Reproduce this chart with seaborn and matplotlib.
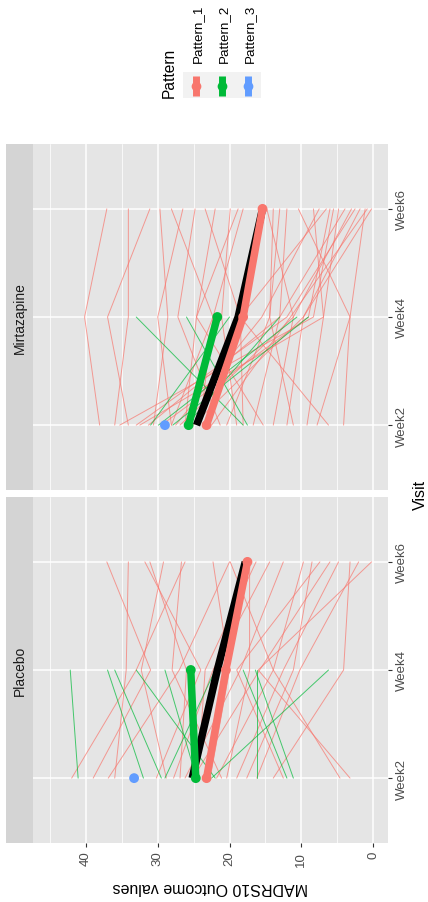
import matplotlib
matplotlib.use("Agg")
import matplotlib.pyplot as plt
import numpy as np
import pandas as pd
import seaborn as sns
from matplotlib.patches import Rectangle
from matplotlib.lines import Line2D
from matplotlib.ticker import FixedLocator

# ---------------- data ----------------
visits = ["Week2", "Week4", "Week6"]
panels = ["Mirtazapine", "Placebo"]
patterns = ["Pattern_1", "Pattern_2", "Pattern_3"]
pattern_colors = ["#F8766D", "#00BA38", "#619CFF"]
madrs_ticks = [0, 10, 20, 30, 40]
madrs_minor = [5, 15, 25, 35, 45]

# Placebo, Pattern_1 subjects (complete Week2/4/6)
plac_p1_w2 = [42.0, 39.0, 36.9, 36.0, 30.2, 28.8, 27.8, 26.9, 26.2, 25.1, 24.4,
              22.7, 21.8, 21.1, 20.4, 19.0, 17.6, 16.2, 13.9, 12.5, 3.2, 4.6]
plac_p1_w4 = [33.0, 31.0, 27.0, 34.4, 24.0, 32.3, 22.3, 26.0, 18.5, 15.8, 23.4,
              20.0, 13.9, 28.0, 17.2, 12.5, 11.1, 10.2, 4.1, 19.0, 16.0, 13.9]
plac_p1_w6 = [26.2, 37.1, 20.0, 34.1, 31.8, 29.2, 14.4, 31.1, 12.5, 6.0, 16.3,
              22.3, 9.7, 26.7, 17.2, 4.8, 8.5, 2.0, 3.2, 7.4, 0.2, 19.9]
# Placebo, Pattern_2 subjects (Week2/4)
plac_p2_w2 = [41.1, 32.0, 29.5, 22.0, 24.6, 29.0, 12.0, 16.2, 11.1, 22.5]
plac_p2_w4 = [42.2, 37.0, 36.0, 33.0, 29.0, 22.0, 18.1, 16.2, 16.4, 6.2]

# Mirtazapine, Pattern_1 subjects
mirt_p1_w2 = [38.1, 36.0, 35.3, 34.1, 32.5, 31.3, 30.6, 28.1, 26.9, 26.2, 25.1,
              24.1, 21.3, 20.4, 19.0, 18.1, 16.7, 15.3, 13.9, 12.0, 11.1, 9.2,
              7.8, 6.2, 4.1, 28.1, 33.0, 29.5, 27.5, 22.5]
mirt_p1_w4 = [40.2, 34.1, 8.3, 37.0, 6.9, 13.0, 28.6, 30.0, 11.1, 24.6, 9.7,
              22.3, 27.2, 14.4, 21.1, 18.5, 13.0, 24.6, 11.1, 9.7, 14.4, 6.9,
              3.2, 18.5, 3.2, 22.3, 12.0, 9.0, 15.5, 11.5]
mirt_p1_w6 = [37.1, 34.1, 5.5, 31.1, 4.8, 3.9, 29.7, 26.5, 3.0, 22.0, 1.8,
              28.1, 24.8, 13.0, 19.9, 23.4, 12.0, 18.8, 14.8, 0.2, 13.9, 8.3,
              10.4, 6.5, 1.1, 18.1, 2.5, 6.0, 7.5, 0.8]
# Mirtazapine, Pattern_2 subjects
mirt_p2_w2 = [18.1, 17.5, 31.0, 29.9, 27.9, 26.0]
mirt_p2_w4 = [33.0, 26.0, 20.0, 10.6, 9.0, 13.0]

# pattern means and overall trend
plac_mean_p1 = [23.2, 20.5, 17.5]
plac_mean_p2 = [24.7, 25.4]
plac_mean_p3 = [33.3]
plac_overall = [25.2, 21.7, 17.8]
mirt_mean_p1 = [23.2, 18.1, 15.4]
mirt_mean_p2 = [25.7, 21.7]
mirt_mean_p3 = [29.0]
mirt_overall = [24.6, 18.8, 15.4]

# ---------------- long tables ----------------
records = []
def add_subjects(panel, pattern, cols, start_id):
    for i, vals in enumerate(zip(*cols)):
        for j, v in enumerate(vals):
            records.append(dict(panel=panel, pattern=pattern,
                                subject=f"{panel}_{pattern}_{start_id + i}",
                                pos=j, value=v))

add_subjects("Placebo", "Pattern_1", [plac_p1_w2, plac_p1_w4, plac_p1_w6], 0)
add_subjects("Placebo", "Pattern_2", [plac_p2_w2, plac_p2_w4], 100)
add_subjects("Mirtazapine", "Pattern_1", [mirt_p1_w2, mirt_p1_w4, mirt_p1_w6], 0)
add_subjects("Mirtazapine", "Pattern_2", [mirt_p2_w2, mirt_p2_w4], 100)
subj = pd.DataFrame(records)

means = {
    "Placebo": ([plac_mean_p1, plac_mean_p2, plac_mean_p3], plac_overall),
    "Mirtazapine": ([mirt_mean_p1, mirt_mean_p2, mirt_mean_p3], mirt_overall),
}

# ---------------- figure ----------------
sns.set_theme(style="white")
plt.rcParams["font.family"] = ["Liberation Sans", "DejaVu Sans"]

W, H = 428, 903
fig = plt.figure(figsize=(W / 100, H / 100), dpi=100)

def px_rect(x0, y0, x1, y1):
    return [x0 / W, 1 - y1 / H, (x1 - x0) / W, (y1 - y0) / H]

panel_boxes = {"Mirtazapine": (33, 145, 388, 491), "Placebo": (33, 498, 388, 844)}
pal = dict(zip(patterns, pattern_colors))

for p in panels:
    box = panel_boxes[p]
    ax = fig.add_axes(px_rect(*box))
    ax.set_facecolor("#E5E5E5")
    for s in ax.spines.values():
        s.set_visible(False)

    d = subj[subj.panel == p]
    sns.lineplot(data=d, x="value", y="pos", hue="pattern", hue_order=patterns,
                 palette=pal, units="subject", estimator=None, sort=False,
                 legend=False, linewidth=0.7, alpha=0.7, ax=ax, zorder=2)

    pmeans, overall = means[p]
    ax.plot(overall, list(range(len(overall))), color="black", lw=5.4,
            solid_capstyle="butt", solid_joinstyle="round", zorder=3)
    for k, mv in enumerate(pmeans):
        pos = list(range(len(mv)))
        if len(mv) > 1:
            ax.plot(mv, pos, color=pattern_colors[k], lw=5.4,
                    solid_capstyle="butt", solid_joinstyle="round", zorder=4)
        sns.scatterplot(x=mv, y=pos, color=pattern_colors[k], s=50,
                        edgecolor="none", ax=ax, zorder=5, legend=False)

    ax.set_xlim(47.39, -2.09)
    ax.set_ylim(-0.6, 2.6)
    ax.xaxis.set_major_locator(FixedLocator(madrs_ticks))
    ax.xaxis.set_minor_locator(FixedLocator(madrs_minor))
    ax.set_yticks(range(len(visits)))
    ax.set_yticklabels(visits)
    ax.set_axisbelow(True)
    ax.grid(which="major", color="white", lw=1.1)
    ax.grid(which="minor", axis="x", color="white", lw=0.55)
    ax.set_xlabel("")
    ax.set_ylabel("")

    ax.yaxis.tick_right()
    ax.tick_params(axis="y", which="major", length=3, width=0.8, color="#333333",
                   labelsize=9.5, labelcolor="#4D4D4D", pad=3, left=False, right=True)
    for lab in ax.get_yticklabels():
        lab.set_rotation(90)
        lab.set_va("center")
        lab.set_ha("left")
    ax.tick_params(axis="x", which="minor", length=0)
    if p == "Placebo":
        ax.tick_params(axis="x", which="major", length=3, width=0.8, color="#333333",
                       labelsize=9.5, labelcolor="#4D4D4D", pad=2.5, bottom=True)
        ax.set_xticklabels([str(t) for t in madrs_ticks])
        for lab in ax.get_xticklabels():
            lab.set_rotation(90)
            lab.set_ha("center")
            lab.set_va("top")
    else:
        ax.tick_params(axis="x", which="major", length=0, labelbottom=False)

# ---------------- overlay: strips, titles, legend ----------------
ov = fig.add_axes([0, 0, 1, 1])
ov.set_xlim(0, W)
ov.set_ylim(H, 0)
ov.axis("off")

for p in panels:
    x0, y0, x1, y1 = panel_boxes[p]
    ov.add_patch(Rectangle((6, y0), 27, y1 - y0, facecolor="#D4D4D4", edgecolor="none"))
    ov.text(19.5, (y0 + y1) / 2, p, rotation=90, ha="center", va="center",
            fontsize=10, color="#1A1A1A")

ov.text(420, (145 + 844) / 2, "Visit", rotation=90, ha="center", va="center",
        fontsize=11.5, color="black")
ov.text(210.5, 888, "MADRS10 Outcome values", rotation=180, ha="center",
        va="center", fontsize=11.5, color="black")

# legend
ov.text(169, 98, "Pattern", rotation=90, ha="center", va="bottom", fontsize=11.2,
        color="black")
ov.add_patch(Rectangle((183, 73), 78, 26, facecolor="#F2F2F2", edgecolor="none"))
key_x = [196, 222, 248]
for k, name in enumerate(patterns):
    ov.add_line(Line2D([key_x[k], key_x[k]], [76.5, 96.5], color=pattern_colors[k],
                       lw=5.0, solid_capstyle="butt"))
    ov.add_line(Line2D([key_x[k]], [86.5], marker="o", markersize=7.0,
                       markeredgewidth=0, color=pattern_colors[k]))
    ov.text(key_x[k] + 2, 63, name, rotation=90, ha="center", va="bottom",
            fontsize=9.6, color="black")

fig.savefig("out.png", dpi=100)
